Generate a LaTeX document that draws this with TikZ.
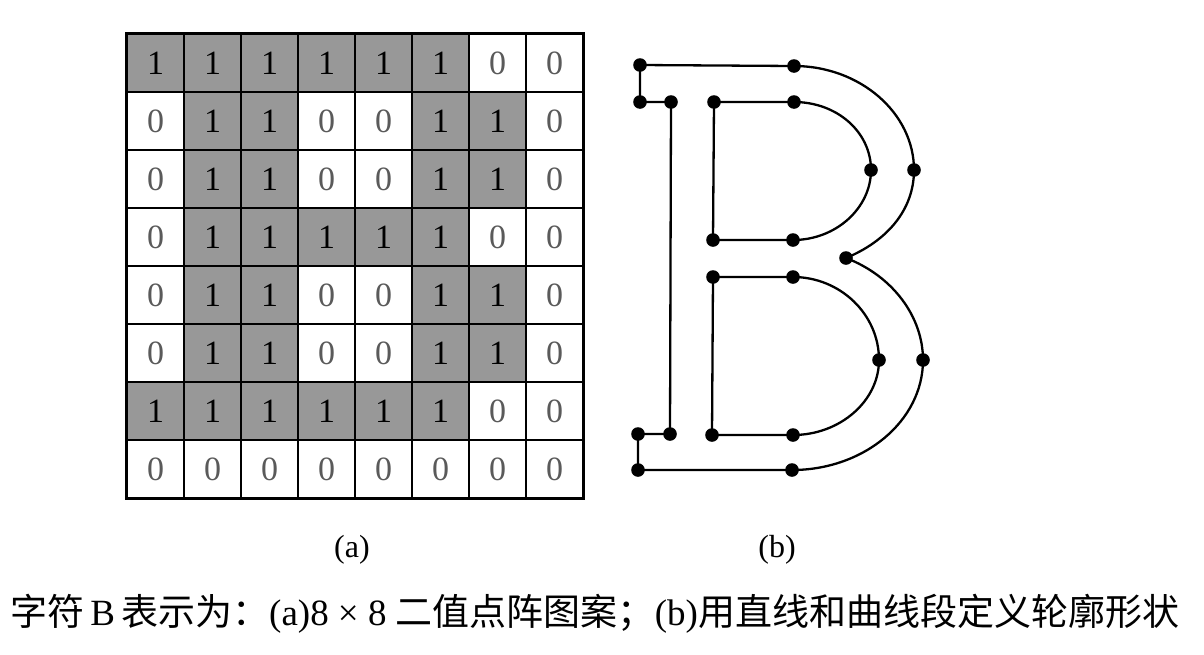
\documentclass[tikz,border=0pt]{standalone}
\usepackage{fontspec}
\setmainfont{Liberation Serif}
\newfontfamily\cjk{Noto Sans CJK SC}
\usetikzlibrary{calc}
\definecolor{shade}{RGB}{152,152,152}
\definecolor{zerotext}{RGB}{90,90,90}
\tikzset{
  cellbase/.style={draw=black, line width=2pt, minimum width=57pt, minimum height=58pt,
    inner sep=0pt, font=\fontsize{34}{36}\selectfont},
  cell1/.style={cellbase, fill=shade, text=black},
  cell0/.style={cellbase, fill=white, text=zerotext},
  contour/.style={line width=2.3pt, black},
  dotmark/.style={fill=black},
  sublabel/.style={font=\fontsize{32}{34}\selectfont},
  captionstyle/.style={font=\fontsize{37}{40}\selectfont, inner sep=0pt}
}
\begin{document}
\begin{tikzpicture}[x=1pt,y=-1pt]
\useasboundingbox (0,0) rectangle (1204,654);
% ---------- (a) 8x8 bitmap ----------
\foreach \rowvals [count=\r] in {{1,1,1,1,1,1,0,0},{0,1,1,0,0,1,1,0},{0,1,1,0,0,1,1,0},{0,1,1,1,1,1,0,0},{0,1,1,0,0,1,1,0},{0,1,1,0,0,1,1,0},{1,1,1,1,1,1,0,0},{0,0,0,0,0,0,0,0}}{
  \foreach \v [count=\c] in \rowvals {
    \node[cell\v] (c\r-\c) at ({127+57*(\c-0.5)},{34+58*(\r-0.5)}) {\v};
  }
}
\draw[line width=2.8pt] (c1-1.north west) rectangle (c8-8.south east);
% ---------- (b) outline of B ----------
\coordinate (o1) at (640,65);
\coordinate (o2) at (794,66);
\coordinate (o3) at (914,170);
\coordinate (o4) at (846,258);
\coordinate (o5) at (923,360);
\coordinate (o6) at (792,470);
\coordinate (o7) at (638,470);
\coordinate (o8) at (638,434);
\coordinate (o9) at (670,434);
\coordinate (o10) at (671,102);
\coordinate (o11) at (640,102);
\coordinate (i1) at (714,102);
\coordinate (i2) at (794,102);
\coordinate (i3) at (871,170);
\coordinate (i4) at (793,240);
\coordinate (i5) at (713,240);
\coordinate (j1) at (713,277);
\coordinate (j2) at (793,277);
\coordinate (j3) at (879,360);
\coordinate (j4) at (793,435);
\coordinate (j5) at (712,435);
\draw[contour] (o1) -- (o2)
  .. controls ($(o2)+(66,0)$) and ($(o3)+(0,-57)$) .. (o3)
  .. controls ($(o3)+(0,40)$) and ($(o4)+(41,-17)$) .. (o4)
  .. controls ($(o4)+(47,18)$) and ($(o5)+(0,-43)$) .. (o5)
  .. controls ($(o5)+(0,61)$) and ($(o6)+(72,0)$) .. (o6)
  -- (o7) -- (o8) -- (o9) -- (o10) -- (o11) -- cycle;
\draw[contour] (i1) -- (i2)
  .. controls ($(i2)+(43,0)$) and ($(i3)+(0,-38)$) .. (i3)
  .. controls ($(i3)+(0,38)$) and ($(i4)+(43,0)$) .. (i4)
  -- (i5) -- cycle;
\draw[contour] (j1) -- (j2)
  .. controls ($(j2)+(47,0)$) and ($(j3)+(0,-46)$) .. (j3)
  .. controls ($(j3)+(0,41)$) and ($(j4)+(47,0)$) .. (j4)
  -- (j5) -- cycle;
\foreach \p in {o1,o2,o3,o4,o5,o6,o7,o8,o9,o10,o11,i1,i2,i3,i4,i5,j1,j2,j3,j4,j5}
  \fill[dotmark] (\p) circle (6.8pt);
% ---------- labels ----------
\node[sublabel] (la) at (352,550) {(a)};
\node[sublabel] (lb) at (777,550) {(b)};
\node[captionstyle, anchor=west] (cap) at (10,614) {{\cjk 字符}\,B\,{\cjk 表示为：}(a)8 × 8 {\cjk 二值点阵图案；}(b){\cjk 用直线和曲线段定义轮廓形状}};
\end{tikzpicture}
\end{document}
